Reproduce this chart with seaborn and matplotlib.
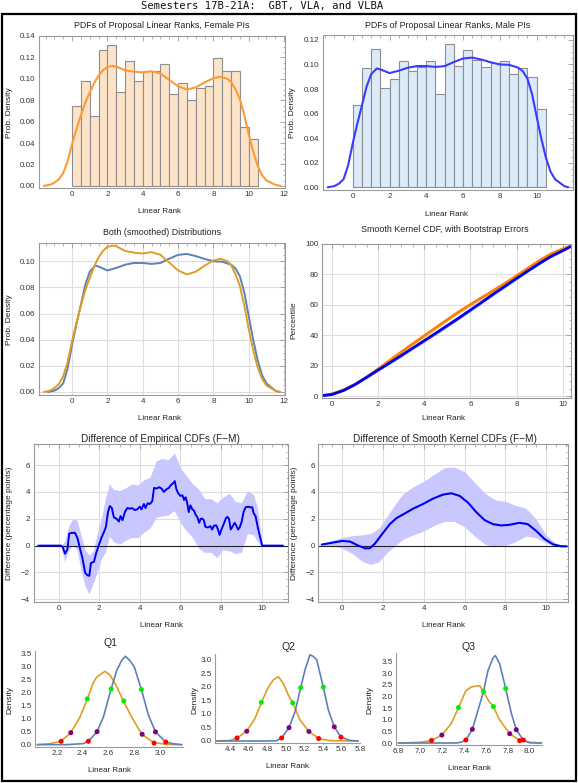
import numpy as np
import matplotlib
matplotlib.use("Agg")
import matplotlib.pyplot as plt
import seaborn as sns
from matplotlib.ticker import MultipleLocator, FormatStrFormatter
from matplotlib.patches import Rectangle

# ------------------------------------------------------------------ data
bin_edges = [0, 0.5, 1, 1.5, 2, 2.5, 3, 3.5, 4, 4.5, 5, 5.5, 6, 6.5, 7, 7.5, 8, 8.5, 9, 9.5, 10, 10.5]
female_hist = [0.075, 0.098, 0.065, 0.127, 0.132, 0.088, 0.117, 0.098, 0.107, 0.107, 0.114,
               0.086, 0.096, 0.080, 0.091, 0.093, 0.119, 0.107, 0.107, 0.055, 0.044]
male_hist = [0.067, 0.097, 0.113, 0.081, 0.088, 0.103, 0.095, 0.098, 0.103, 0.076, 0.117,
             0.099, 0.112, 0.104, 0.098, 0.101, 0.103, 0.092, 0.097, 0.090, 0.064]

f_pdf_x = [-1.6, -1.25, -1.0, -0.75, -0.5, -0.25, 0, 0.25, 0.5, 0.75, 1.0, 1.25, 1.5, 1.75, 2.0,
           2.3, 2.5, 3.0, 3.5, 4.0, 4.5, 5.0, 5.5, 6.0, 6.5, 7.0, 7.5, 8.0, 8.4, 8.8, 9.0, 9.25,
           9.5, 9.75, 10.0, 10.25, 10.5, 10.75, 11.0, 11.5, 11.8]
f_pdf_y = [0.0, 0.001, 0.003, 0.006, 0.012, 0.023, 0.039, 0.053, 0.066, 0.078, 0.087, 0.096,
           0.103, 0.108, 0.111, 0.112, 0.1115, 0.108, 0.1066, 0.106, 0.107, 0.105, 0.099, 0.093,
           0.090, 0.092, 0.0966, 0.1006, 0.102, 0.100, 0.097, 0.090, 0.081, 0.066, 0.048, 0.032,
           0.019, 0.010, 0.005, 0.001, 0.0]
m_pdf_x = [-1.36, -1.0, -0.75, -0.5, -0.25, 0, 0.25, 0.5, 0.75, 1.0, 1.3, 1.5, 2.0, 2.5, 3.0,
           3.5, 4.0, 4.5, 5.0, 5.5, 6.0, 6.5, 7.0, 7.5, 8.0, 8.5, 9.0, 9.25, 9.5, 9.75, 10.0,
           10.25, 10.5, 10.75, 11.0, 11.5, 11.72]
m_pdf_y = [0.0, 0.001, 0.003, 0.0066, 0.018, 0.036, 0.052, 0.0668, 0.082, 0.092, 0.0967, 0.096,
           0.093, 0.0949, 0.0974, 0.0987, 0.0987, 0.098, 0.0987, 0.102, 0.1049, 0.1056, 0.104,
           0.1018, 0.100, 0.0997, 0.0974, 0.0945, 0.0885, 0.076, 0.0578, 0.040, 0.0245, 0.013,
           0.0066, 0.001, 0.0]

cdf_x = [-0.43, 0, 0.5, 1, 1.5, 2, 2.5, 3, 3.5, 4, 4.5, 5, 5.5, 6, 6.5, 7, 7.5, 8, 8.5, 9, 9.5, 10, 10.33]
cdf_m = [0.5, 1.3, 3.9, 7.8, 12.5, 17.3, 22.0, 26.8, 31.7, 36.6, 41.5, 46.5, 51.5, 56.7, 61.9,
         67.2, 72.3, 77.4, 82.4, 87.3, 91.9, 95.6, 98.2]
cdf_f = [0.6, 1.7, 4.3, 8.0, 12.7, 18.1, 23.6, 29.1, 34.5, 39.8, 45.1, 50.4, 55.5, 60.3, 64.9,
         69.5, 74.2, 79.1, 84.2, 89.2, 93.6, 96.8, 98.6]
cdf_err = [0.2, 0.3, 0.5, 0.6, 0.7, 0.8, 0.9, 1.0, 1.0, 1.1, 1.1, 1.1, 1.1, 1.1, 1.0, 1.0, 1.0,
           0.9, 0.8, 0.7, 0.6, 0.4, 0.3]

emp_x = [-1.0, 0.11, 0.2, 0.31, 0.43, 0.52, 0.64, 0.8, 0.92, 1.05, 1.18, 1.3, 1.41, 1.51, 1.59,
         1.74, 1.84, 1.97, 2.11, 2.23, 2.33, 2.43, 2.52, 2.62, 2.72, 2.85, 2.97, 3.05, 3.15, 3.26,
         3.38, 3.51, 3.62, 3.75, 3.87, 4.0, 4.08, 4.2, 4.28, 4.38, 4.49, 4.61, 4.7, 4.82, 4.95,
         5.07, 5.18, 5.31, 5.43, 5.52, 5.64, 5.72, 5.8, 5.89, 6.0, 6.1, 6.18, 6.26, 6.33, 6.41,
         6.49, 6.59, 6.67, 6.75, 6.84, 6.92, 7.0, 7.08, 7.15, 7.23, 7.36, 7.48, 7.56, 7.66, 7.77,
         7.85, 7.93, 8.02, 8.13, 8.23, 8.31, 8.39, 8.48, 8.56, 8.67, 8.75, 8.84, 8.92, 9.02, 9.11,
         9.21, 9.33, 9.44, 9.54, 9.61, 9.7, 9.82, 9.93, 10.03, 11.05]
emp_y = [0, 0, -0.1, -0.6, -0.3, 0.9, 0.95, 0.95, 0.6, -0.2, -1.0, -2.0, -2.2, -2.25, -1.3, -1.2,
         -0.6, 0.0, 0.6, 1.0, 1.4, 2.5, 2.95, 2.8, 2.1, 2.0, 1.8, 2.2, 1.9, 2.5, 2.8, 2.75, 2.8,
         2.65, 2.7, 2.9, 2.7, 3.1, 2.8, 3.15, 3.1, 3.3, 4.3, 4.25, 4.35, 4.25, 4.0, 4.2, 4.3, 4.5,
         4.65, 4.8, 4.2, 3.9, 3.7, 3.75, 3.4, 3.6, 3.2, 2.5, 3.0, 2.7, 2.6, 2.3, 2.1, 1.7, 2.0, 2.0,
         1.9, 1.4, 1.35, 1.45, 1.2, 1.5, 1.5, 1.2, 0.8, 1.2, 1.6, 2.0, 2.15, 2.0, 1.2, 1.4, 1.7,
         1.5, 1.2, 1.35, 1.8, 2.5, 2.85, 2.9, 2.85, 2.85, 2.4, 2.2, 1.3, 0.6, 0.0, 0]
emp_band_x = [-1.0, 0.1, 0.3, 0.5, 0.7, 0.9, 1.1, 1.3, 1.5, 1.7, 1.9, 2.1, 2.3, 2.5, 2.7, 3.0, 3.3,
              3.6, 3.9, 4.2, 4.5, 4.8, 5.1, 5.4, 5.7, 6.0, 6.3, 6.6, 6.9, 7.2, 7.5, 7.8, 8.1, 8.4,
              8.7, 9.0, 9.3, 9.6, 9.8, 10.0, 10.05, 11.05]
emp_hi = [0, 0, 0.3, 1.5, 2.0, 1.9, 0.8, -0.3, -0.7, -0.4, 0.9, 2.0, 3.5, 4.6, 4.2, 4.1, 4.3, 4.6,
          4.5, 4.9, 5.1, 6.3, 6.5, 6.4, 6.9, 5.8, 5.2, 4.6, 4.2, 3.5, 3.5, 3.2, 3.6, 3.9, 3.3, 3.2,
          4.1, 3.8, 2.8, 0.5, 0, 0]
emp_lo = [0, 0, -1.2, -0.3, 0.0, -0.3, -1.8, -3.0, -3.6, -2.8, -2.0, -1.0, -0.5, 0.7, 0.3, 0.1,
          0.4, 0.6, 0.6, 1.0, 1.3, 2.1, 2.2, 2.3, 2.6, 1.7, 1.1, 0.6, -0.2, -0.5, -0.5, -0.9, -0.3,
          -0.4, -0.6, -0.5, 0.9, 0.8, 0.3, -0.1, 0, 0]

sm_x = [-1.01, 0, 0.38, 0.78, 1.11, 1.35, 1.6, 1.92, 2.33, 2.66, 3.07, 3.47, 3.96, 4.45, 4.94,
        5.35, 5.76, 6.17, 6.57, 6.98, 7.39, 7.8, 8.2, 8.69, 9.1, 9.51, 9.92, 10.33, 10.73, 11.0]
sm_y = [0.08, 0.35, 0.3, 0.0, -0.2, -0.2, 0.15, 0.8, 1.6, 2.05, 2.4, 2.75, 3.1, 3.5, 3.8, 3.9,
        3.7, 3.2, 2.5, 1.9, 1.6, 1.5, 1.55, 1.7, 1.6, 1.1, 0.5, 0.1, -0.05, -0.05]
sm_band_x = [-1.0, -0.5, 0, 0.5, 1.0, 1.4, 1.8, 2.2, 2.6, 3.0, 3.5, 4.0, 4.5, 5.0, 5.5, 6.0, 6.5,
             7.0, 7.5, 8.0, 8.5, 9.0, 9.5, 10.0, 10.5, 11.0]
sm_hi = [0.1, 0.4, 0.6, 0.75, 0.8, 0.9, 1.3, 2.2, 3.1, 3.9, 4.4, 4.8, 5.3, 5.8, 5.85, 5.5, 4.7,
         3.9, 3.4, 3.3, 3.0, 2.8, 2.0, 0.8, 0.15, 0.0]
sm_lo = [0.0, 0.0, -0.2, -0.6, -1.2, -1.4, -1.2, -0.5, 0.0, 0.5, 0.8, 1.1, 1.5, 1.8, 1.8, 1.4,
         0.7, 0.1, -0.05, 0.0, 0.3, 0.7, 0.6, 0.2, -0.05, -0.05]

q1_f_x = [2.05, 2.148, 2.226, 2.303, 2.38, 2.437, 2.484, 2.51, 2.53, 2.574, 2.613, 2.652, 2.716,
          2.78, 2.858, 2.923, 2.953, 3.05, 3.167]
q1_f_y = [0, 0.04, 0.12, 0.42, 1.06, 1.76, 2.40, 2.60, 2.67, 2.82, 2.67, 2.35, 1.68, 1.06, 0.40,
          0.17, 0.08, 0.01, 0]
q1_m_x = [2.05, 2.277, 2.406, 2.445, 2.512, 2.561, 2.621, 2.665, 2.703, 2.732, 2.768, 2.80, 2.855,
          2.91, 2.964, 3.044, 3.103, 3.167]
q1_m_y = [0, 0, 0.04, 0.13, 0.50, 1.06, 2.14, 2.86, 3.24, 3.40, 3.22, 2.99, 2.12, 1.13, 0.49,
          0.10, 0.03, 0]
q2_f_x = [4.256, 4.40, 4.475, 4.58, 4.669, 4.737, 4.813, 4.867, 4.92, 4.974, 5.028, 5.075, 5.154,
          5.25, 5.355, 5.477, 5.78]
q2_f_y = [0, 0.02, 0.11, 0.36, 0.83, 1.42, 1.98, 2.25, 2.37, 2.12, 1.69, 1.40, 0.77, 0.35, 0.09,
          0.01, 0]
q2_m_x = [4.256, 4.80, 4.903, 4.956, 5.035, 5.10, 5.161, 5.208, 5.261, 5.297, 5.333, 5.405, 5.459,
          5.523, 5.595, 5.692, 5.78]
q2_m_y = [0, 0, 0.01, 0.11, 0.49, 1.07, 1.96, 2.62, 3.17, 3.11, 2.99, 1.98, 1.14, 0.52, 0.14,
          0.02, 0]
q3_f_x = [6.80, 6.997, 7.104, 7.198, 7.286, 7.35, 7.417, 7.468, 7.544, 7.578, 7.62, 7.669, 7.726,
          7.818, 7.91, 8.0, 8.112]
q3_f_y = [0, 0.03, 0.11, 0.34, 0.85, 1.52, 2.24, 2.41, 2.46, 2.20, 1.85, 1.56, 0.99, 0.40, 0.11,
          0.03, 0]
q3_m_x = [6.80, 7.33, 7.38, 7.417, 7.477, 7.529, 7.578, 7.62, 7.666, 7.687, 7.726, 7.781, 7.833,
          7.878, 7.942, 8.0, 8.112]
q3_m_y = [0, 0, 0.04, 0.13, 0.59, 1.42, 2.20, 3.12, 3.65, 3.75, 3.40, 2.34, 1.27, 0.57, 0.13,
          0.01, 0]

q1_f_mx = [2.234, 2.309, 2.437, 2.719, 2.861, 2.953]; q1_f_my = [0.13, 0.46, 1.76, 1.68, 0.40, 0.06]
q1_m_mx = [2.445, 2.512, 2.621, 2.855, 2.964, 3.044]; q1_m_my = [0.13, 0.50, 2.14, 2.12, 0.49, 0.10]
q2_f_mx = [4.475, 4.58, 4.737, 5.075, 5.25, 5.355]; q2_f_my = [0.11, 0.36, 1.42, 1.40, 0.35, 0.09]
q2_m_mx = [4.956, 5.035, 5.161, 5.405, 5.523, 5.595]; q2_m_my = [0.11, 0.49, 1.96, 1.98, 0.52, 0.14]
q3_f_mx = [7.104, 7.198, 7.35, 7.669, 7.818, 7.909]; q3_f_my = [0.11, 0.34, 1.52, 1.56, 0.40, 0.10]
q3_m_mx = [7.417, 7.477, 7.578, 7.781, 7.878, 7.942]; q3_m_my = [0.13, 0.59, 2.20, 2.34, 0.57, 0.13]
marker_colors = ['#FF0000', '#800080', '#00EE00', '#00EE00', '#800080', '#FF0000']

# ------------------------------------------------------------------ style
sns.set_style("white")
plt.rcParams['font.family'] = ['Liberation Sans', 'DejaVu Sans']

W, H = 578, 783
fig = plt.figure(figsize=(W / 100, H / 100), dpi=100)

FRAME = '#9a9a9a'
TXT = '#333333'
M_BLUE = '#5E81B5'
M_ORANGE = '#E19C24'


def add_ax(x0, y0, x1, y1):
    return fig.add_axes([x0 / W, 1 - y1 / H, (x1 - x0) / W, (y1 - y0) / H])


def ftext(x, y, s, size=5.8, rot=0, **kw):
    fig.text(x / W, 1 - y / H, s, ha='center', va='center', fontsize=size,
             rotation=rot, color=kw.pop('color', '#222222'), **kw)


def frame_style(ax, grid=False, xmaj=2, xmin=0.5, ymaj=None, ymin=None, yfmt=None):
    for s in ax.spines.values():
        s.set_visible(True)
        s.set_color(FRAME)
        s.set_linewidth(0.8)
    ax.xaxis.set_major_locator(MultipleLocator(xmaj))
    ax.xaxis.set_minor_locator(MultipleLocator(xmin))
    if ymaj:
        ax.yaxis.set_major_locator(MultipleLocator(ymaj))
        ax.yaxis.set_minor_locator(MultipleLocator(ymin))
    if yfmt:
        ax.yaxis.set_major_formatter(FormatStrFormatter(yfmt))
    ax.tick_params(which='both', direction='in', top=True, right=True, colors=FRAME,
                   labelcolor=TXT, labelsize=5.8, pad=2.5)
    ax.tick_params(which='major', length=3.5, width=0.6)
    ax.tick_params(which='minor', length=1.8, width=0.5)
    if grid:
        ax.grid(True, which='major', color='#dedede', lw=0.8)
        ax.set_axisbelow(True)
    else:
        ax.grid(False)
    ax.set_xlabel('')
    ax.set_ylabel('')


bin_centers = np.array(bin_edges[:-1]) + 0.25

# ---- Panel 1: female histogram
ax1 = add_ax(39, 36, 285, 188)
sns.histplot(x=bin_centers, weights=female_hist, bins=bin_edges, stat='count',
             color='#FDE3C8', edgecolor='#8e8e8e', linewidth=0.8, alpha=1, ax=ax1)
sns.lineplot(x=f_pdf_x, y=f_pdf_y, color='#FF9A35', lw=1.5, ax=ax1)
ax1.set_xlim(-1.87, 12.05)
ax1.set_ylim(-0.002, 0.140)
frame_style(ax1, xmaj=2, xmin=0.5, ymaj=0.02, ymin=0.005, yfmt='%.2f')

# ---- Panel 2: male histogram
ax2 = add_ax(323, 35, 573, 190)
sns.histplot(x=bin_centers, weights=male_hist, bins=bin_edges, stat='count',
             color='#DCEBF9', edgecolor='#8e8e8e', linewidth=0.8, alpha=1, ax=ax2)
sns.lineplot(x=m_pdf_x, y=m_pdf_y, color='#3B3BFF', lw=1.5, ax=ax2)
ax2.set_xlim(-1.62, 11.98)
ax2.set_ylim(-0.0022, 0.124)
frame_style(ax2, xmaj=2, xmin=0.5, ymaj=0.02, ymin=0.005, yfmt='%.2f')

# ---- Panel 3: both smoothed
ax3 = add_ax(39, 243, 285, 395)
sns.lineplot(x=m_pdf_x, y=m_pdf_y, color=M_BLUE, lw=1.4, ax=ax3)
sns.lineplot(x=f_pdf_x, y=f_pdf_y, color=M_ORANGE, lw=1.4, ax=ax3)
ax3.set_xlim(-1.87, 12.05)
ax3.set_ylim(-0.0023, 0.114)
frame_style(ax3, grid=True, xmaj=2, xmin=0.5, ymaj=0.02, ymin=0.005, yfmt='%.2f')

# ---- Panel 4: CDF
ax4 = add_ax(322, 244, 571, 398)
f_lo = np.array(cdf_f) - np.array(cdf_err); f_hi = np.array(cdf_f) + np.array(cdf_err)
m_lo = np.array(cdf_m) - np.array(cdf_err); m_hi = np.array(cdf_m) + np.array(cdf_err)
ax4.fill_between(cdf_x, f_lo, f_hi, color='#FFC590', alpha=0.8, lw=0)
sns.lineplot(x=cdf_x, y=cdf_f, color='#FF8000', lw=2.0, ax=ax4)
ax4.fill_between(cdf_x, m_lo, m_hi, color='#9C9CFF', alpha=0.8, lw=0)
sns.lineplot(x=cdf_x, y=cdf_m, color='#0000F0', lw=2.0, ax=ax4)
ax4.set_xlim(-0.43, 10.36)
ax4.set_ylim(-1, 100)
frame_style(ax4, grid=True, xmaj=2, xmin=0.5, ymaj=20, ymin=5)

# ---- Panel 5: empirical difference
ax5 = add_ax(33.5, 444, 288, 602)
ax5.fill_between(emp_band_x, emp_lo, emp_hi, color='#C8C8FF', lw=0)
ax5.axhline(0, color='#222222', lw=0.8)
sns.lineplot(x=emp_x, y=emp_y, color='#0000F0', lw=1.4, ax=ax5)
ax5.set_xlim(-1.24, 11.3)
ax5.set_ylim(-4.2, 7.57)
frame_style(ax5, grid=True, xmaj=2, xmin=0.5, ymaj=2, ymin=0.5)

# ---- Panel 6: smooth difference
ax6 = add_ax(318.5, 444, 567.5, 602)
ax6.fill_between(sm_band_x, sm_lo, sm_hi, color='#C8C8FF', lw=0)
ax6.axhline(0, color='#222222', lw=0.8)
sns.lineplot(x=sm_x, y=sm_y, color='#0000F0', lw=1.5, ax=ax6)
ax6.set_xlim(-1.17, 11.05)
ax6.set_ylim(-4.2, 7.57)
frame_style(ax6, grid=True, xmaj=2, xmin=0.5, ymaj=2, ymin=0.5)


# ---- Q panels
def q_panel(box, xlim, ylim, xmaj, ymaj, fx, fy, mx, my, fmx, fmy, mmx, mmy):
    ax = add_ax(*box)
    sns.lineplot(x=fx, y=fy, color=M_ORANGE, lw=1.2, ax=ax)
    sns.lineplot(x=mx, y=my, color=M_BLUE, lw=1.2, ax=ax)
    sns.scatterplot(x=fmx, y=fmy, hue=list(range(6)), palette=marker_colors, s=13,
                    edgecolor='none', legend=False, ax=ax, zorder=5)
    sns.scatterplot(x=mmx, y=mmy, hue=list(range(6)), palette=marker_colors, s=13,
                    edgecolor='none', legend=False, ax=ax, zorder=5)
    ax.set_xlim(*xlim)
    ax.set_ylim(*ylim)
    for side in ['top', 'right']:
        ax.spines[side].set_visible(False)
    for side in ['left', 'bottom']:
        ax.spines[side].set_visible(True)
        ax.spines[side].set_color(FRAME)
        ax.spines[side].set_linewidth(0.8)
    ax.xaxis.set_major_locator(MultipleLocator(xmaj))
    ax.xaxis.set_minor_locator(MultipleLocator(xmaj / 4))
    ax.yaxis.set_major_locator(MultipleLocator(ymaj))
    ax.yaxis.set_minor_locator(MultipleLocator(ymaj / 5))
    ax.xaxis.set_major_formatter(FormatStrFormatter('%.1f'))
    ax.yaxis.set_major_formatter(FormatStrFormatter('%.1f'))
    ax.tick_params(which='both', direction='in', colors=FRAME, labelcolor=TXT,
                   labelsize=5.8, pad=2.5)
    ax.tick_params(which='major', length=3, width=0.6)
    ax.tick_params(which='minor', length=1.5, width=0.5)
    ax.grid(False)
    ax.set_xlabel('')
    ax.set_ylabel('')
    return ax


q_panel((35, 651, 183, 747), (2.032, 3.177), (-0.09, 3.6), 0.2, 0.5,
        q1_f_x, q1_f_y, q1_m_x, q1_m_y, q1_f_mx, q1_f_my, q1_m_mx, q1_m_my)
q_panel((215, 654, 360, 743), (4.238, 5.80), (-0.074, 3.2), 0.2, 0.5,
        q2_f_x, q2_f_y, q2_m_x, q2_m_y, q2_f_mx, q2_f_my, q2_m_mx, q2_m_my)
q_panel((396, 653, 542, 745), (6.779, 8.113), (-0.085, 3.86), 0.2, 0.5,
        q3_f_x, q3_f_y, q3_m_x, q3_m_y, q3_f_mx, q3_f_my, q3_m_mx, q3_m_my)

# ------------------------------------------------------------------ texts
ftext(262.5, 6.5, "Semesters 17B-21A:  GBT, VLA, and VLBA", size=7.6,
      family='DejaVu Sans Mono', color='#111111')

ftext(162, 25, "PDFs of Proposal Linear Ranks, Female PIs", size=6.4)
ftext(448, 25, "PDFs of Proposal Linear Ranks, Male PIs", size=6.4)
ftext(162.5, 232.5, "Both (smoothed) Distributions", size=6.4)
ftext(445, 230, "Smooth Kernel CDF, with Bootstrap Errors", size=6.4)
ftext(160, 439, "Difference of Empirical CDFs (F\u2212M)", size=7.2)
ftext(444.5, 438.5, "Difference of Smooth Kernel CDFs (F\u2212M)", size=7.2)
ftext(110, 643, "Q1", size=7.6)
ftext(288, 647.5, "Q2", size=7.6)
ftext(469, 646.5, "Q3", size=7.6)

for (x, y) in [(160, 211.5), (446.5, 214), (160, 418), (443, 418), (161, 625.5),
               (444, 625.5), (110, 770.5), (288, 766.5), (470, 769)]:
    ftext(x, y, "Linear Rank", size=5.8)

ftext(10, 113, "Prob. Density", size=6, rot=90)
ftext(293, 113, "Prob. Density", size=6, rot=90)
ftext(10, 320, "Prob. Density", size=6, rot=90)
ftext(294, 320, "Percentile", size=6, rot=90)
ftext(10, 523, "Difference (percentage points)", size=6, rot=90)
ftext(294, 523, "Difference (percentage points)", size=6, rot=90)
ftext(10, 700, "Density", size=6, rot=90)
ftext(195, 700, "Density", size=6, rot=90)
ftext(370, 700, "Density", size=6, rot=90)

# outer border
fig.add_artist(Rectangle((1.5 / W, 1 - 781 / H), (575.5 - 1.5) / W, (781 - 14) / H,
                         transform=fig.transFigure, fill=False, lw=1.6, ec='black'))

fig.savefig("out.png", dpi=100)
